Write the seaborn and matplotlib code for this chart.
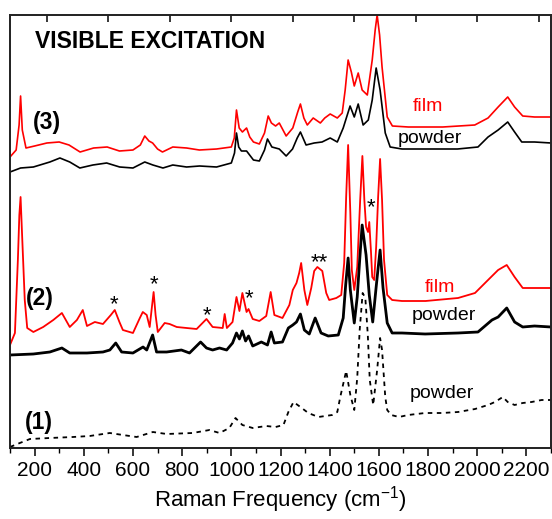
import matplotlib
matplotlib.use("Agg")
import matplotlib.pyplot as plt
import seaborn as sns
import numpy as np
import pandas as pd

# ---- data (wavenumber in cm-1, intensity in a.u.) ----
film3_x = [100, 125, 137, 143, 150, 165, 200, 250, 300, 340, 385, 440, 495, 545, 600, 630, 648, 665,
           680, 700, 720, 762, 818, 870, 940, 1000, 1012, 1021, 1032, 1045, 1062, 1075, 1090, 1114,
           1135, 1150, 1163, 1180, 1195, 1223, 1250, 1270, 1281, 1295, 1309, 1333, 1362, 1380, 1402,
           1431, 1451, 1463, 1475, 1488, 1500, 1516, 1532, 1553, 1573, 1585, 1593, 1603, 1613, 1634,
           1655, 1720, 1860, 1990, 2044, 2085, 2124, 2152, 2185, 2233, 2300]
film3_y = [291, 298, 323, 352, 318, 300, 302, 305, 306, 303, 296, 300, 301, 297, 298, 303, 312, 307,
           305, 299, 296, 301, 300, 298, 299, 301, 310, 338, 320, 316, 320, 311, 306, 304,
           315, 332, 325, 322, 325, 312, 320, 336, 344, 330, 323, 330, 325, 330, 334,
           330, 335, 358, 388, 376, 362, 375, 358, 353, 388, 418, 433, 413, 381, 331,
           322, 321, 321, 323, 330, 341, 351, 341, 332, 331, 331]

powder3_x = [100, 143, 195, 262, 303, 343, 384, 437, 493, 546, 600, 648, 681, 722, 762, 818, 871, 940,
             1000, 1013, 1021, 1030, 1041, 1062, 1090, 1114, 1135, 1147, 1165, 1195, 1223, 1249, 1268,
             1281, 1304, 1337, 1369, 1402, 1431, 1455, 1483, 1500, 1516, 1536, 1557, 1573, 1589, 1605,
             1626, 1646, 1694, 1790, 1920, 2003, 2044, 2085, 2124, 2152, 2181, 2233, 2300]
powder3_y = [276, 280, 281, 286, 290, 286, 280, 283, 285, 281, 280, 286, 283, 280, 283, 281, 282, 281,
             285, 295, 315, 301, 297, 297, 288, 287, 298, 309, 301, 299, 292, 299, 310,
             316, 303, 305, 306, 310, 306, 320, 342, 331, 344, 323, 328, 348, 380, 358,
             315, 301, 299, 299, 299, 301, 311, 318, 326, 316, 306, 306, 305]

film2_x = [100, 120, 132, 138, 143, 150, 160, 170, 195, 235, 276, 311, 343, 372, 396, 413, 445, 478,
           510, 526, 545, 559, 600, 628, 640, 656, 668, 678, 684, 692, 701, 729, 749, 778, 818, 859,
           899, 924, 965, 973, 982, 1005, 1021, 1033, 1045, 1062, 1070, 1087, 1114, 1142, 1160, 1175,
           1208, 1236, 1250, 1265, 1276, 1284, 1297, 1309, 1325, 1337, 1350, 1370, 1386, 1398, 1427,
           1447, 1459, 1467, 1475, 1484, 1490, 1500, 1512, 1524, 1533, 1541, 1548, 1556, 1561, 1568,
           1573, 1581, 1589, 1597, 1605, 1613, 1621, 1634, 1654, 1694, 1790, 1922, 1991, 2044, 2085,
           2120, 2152, 2185, 2233, 2300]
film2_y = [103, 115, 188, 233, 251, 208, 148, 120, 116, 121, 128, 135, 121, 128, 138, 122, 126, 124,
           133, 138, 126, 118, 115, 130, 136, 133, 121, 143, 156, 133, 116, 125, 124, 121, 120, 119,
           129, 121, 120, 134, 120, 126, 151, 137, 155, 136, 139, 129, 127, 132, 156, 133,
           130, 143, 158, 165, 175, 185, 158, 143, 160, 177, 181, 177, 155, 148, 150,
           153, 185, 251, 303, 235, 178, 158, 181, 248, 292, 248, 221, 216, 226, 196,
           171, 168, 201, 251, 289, 248, 188, 153, 148, 147, 147, 150, 155, 168, 178,
           183, 171, 160, 160, 160]

powder2_x = [100, 195, 262, 311, 343, 413, 478, 506, 530, 554, 600, 641, 656, 680, 696, 737, 797, 830,
             875, 899, 924, 952, 981, 1005, 1021, 1033, 1045, 1058, 1070, 1087, 1122, 1147, 1162, 1175,
             1208, 1232, 1250, 1265, 1281, 1297, 1317, 1341, 1365, 1394, 1435, 1455, 1465, 1475, 1484,
             1500, 1512, 1522, 1532, 1548, 1561, 1575, 1589, 1597, 1605, 1617, 1634, 1654, 1694, 1788,
             1922, 2003, 2060, 2085, 2120, 2152, 2185, 2233, 2300]
powder2_y = [93, 94, 96, 100, 95, 95, 96, 98, 105, 96, 95, 101, 98, 113, 96, 96, 98, 95,
             106, 100, 98, 100, 98, 105, 115, 109, 117, 107, 112, 102, 106, 103, 116, 105,
             106, 120, 123, 126, 134, 118, 114, 130, 115, 112, 113, 130, 163, 190, 158,
             125, 151, 188, 223, 193, 153, 126, 161, 180, 198, 160, 125, 115, 115, 114,
             115, 116, 128, 131, 140, 126, 121, 122, 121]

powder1_x = [100, 140, 181, 262, 356, 424, 506, 559, 615, 681, 737, 843, 911, 952, 992, 1017, 1045,
             1087, 1142, 1180, 1212, 1232, 1253, 1281, 1313, 1354, 1410, 1431, 1443, 1467, 1484, 1500,
             1512, 1522, 1534, 1545, 1555, 1563, 1577, 1593, 1605, 1613, 1626, 1634, 1650, 1682, 1719,
             1788, 1857, 1922, 1991, 2044, 2072, 2104, 2124, 2152, 2185, 2221, 2262, 2300]
powder1_y = [1, 5, 9, 10, 11, 12, 15, 13, 11, 16, 14, 15, 18, 15, 20, 30, 23,
             20, 22, 21, 23, 36, 46, 41, 35, 31, 33, 36, 51, 77, 53, 38,
             70, 118, 155, 150, 113, 68, 43, 78, 110, 98, 51, 38, 33, 31, 33,
             35, 35, 36, 39, 43, 46, 51, 46, 43, 45, 46, 48, 48]

x_ticks = [200, 400, 600, 800, 1000, 1200, 1400, 1600, 1800, 2000, 2200]

sns.set_theme(style="white")
plt.rcParams["font.family"] = ["Liberation Sans", "DejaVu Sans"]
plt.rcParams["mathtext.fontset"] = "custom"
plt.rcParams["mathtext.rm"] = "Liberation Sans"
plt.rcParams["text.color"] = "black"
plt.rcParams["axes.labelcolor"] = "black"
plt.rcParams["xtick.color"] = "black"

fig = plt.figure(figsize=(5.52, 5.19), dpi=100)
ax = fig.add_axes([10 / 552, 71 / 519, 541 / 552, 433 / 519])

traces = [
    (film3_x, film3_y, "red", 1.2, "-"),
    (powder3_x, powder3_y, "black", 1.2, "-"),
    (film2_x, film2_y, "red", 1.3, "-"),
    (powder2_x, powder2_y, "black", 2.0, "-"),
    (powder1_x, powder1_y, "black", 1.3, (0, (2.5, 2.5))),
]
for xs, ys, color, lw, ls in traces:
    df = pd.DataFrame({"freq": xs, "intensity": ys})
    sns.lineplot(data=df, x="freq", y="intensity", ax=ax, color=color, linewidth=lw,
                 linestyle=ls, sort=False, estimator=None)

ax.set_xlim(100, 2300)
ax.set_ylim(0, 433)
ax.set_xticks(x_ticks)
ax.set_xticks(np.arange(100, 2301, 100), minor=True)
ax.set_yticks([])
ax.set_ylabel("")
ax.set_xlabel("Raman Frequency (cm$^{-1}$)", fontsize=16, labelpad=3)
ax.tick_params(axis="x", which="major", direction="out", length=6, width=1.1,
               labelsize=15, pad=3, bottom=True, colors="black")
ax.tick_params(axis="x", which="minor", direction="out", length=3.5, width=1.0,
               bottom=True, colors="black")
for side in ax.spines.values():
    side.set_color("black")
    side.set_linewidth(1.2)

# top axis: inward ticks every 250
ax_top = ax.twiny()
ax_top.set_xlim(ax.get_xlim())
ax_top.set_xticks(np.arange(250, 2300, 250))
ax_top.tick_params(axis="x", direction="in", length=5, width=1.1, top=True,
                   labeltop=False, color="black")
ax_top.spines["top"].set_linewidth(1.2)

ax.text(201, 406, "VISIBLE EXCITATION", fontsize=16.5, fontweight="bold", ha="left", va="center")
for lab, xx, yy in [("(3)", 193, 325), ("(2)", 165, 150), ("(1)", 161, 26)]:
    ax.text(xx, yy, lab, fontsize=16.5, fontweight="bold", ha="left", va="center")

ax.text(1798, 341, "film", color="red", fontsize=14, ha="center", va="center")
ax.text(1808, 309, "powder", color="black", fontsize=14, ha="center", va="center")
ax.text(1849, 161, "film", color="red", fontsize=14, ha="center", va="center")
ax.text(1865, 133, "powder", color="black", fontsize=14, ha="center", va="center")
ax.text(1855, 55, "powder", color="black", fontsize=14, ha="center", va="center")

for lab, xx, yy in [("*", 522, 148), ("*", 684, 168), ("*", 903, 137), ("*", 1070, 154),
                    ("**", 1358, 190), ("*", 1569, 245)]:
    ax.text(xx, yy - 5, lab, fontsize=16, ha="center", va="center")

fig.savefig("out.png", dpi=100)
